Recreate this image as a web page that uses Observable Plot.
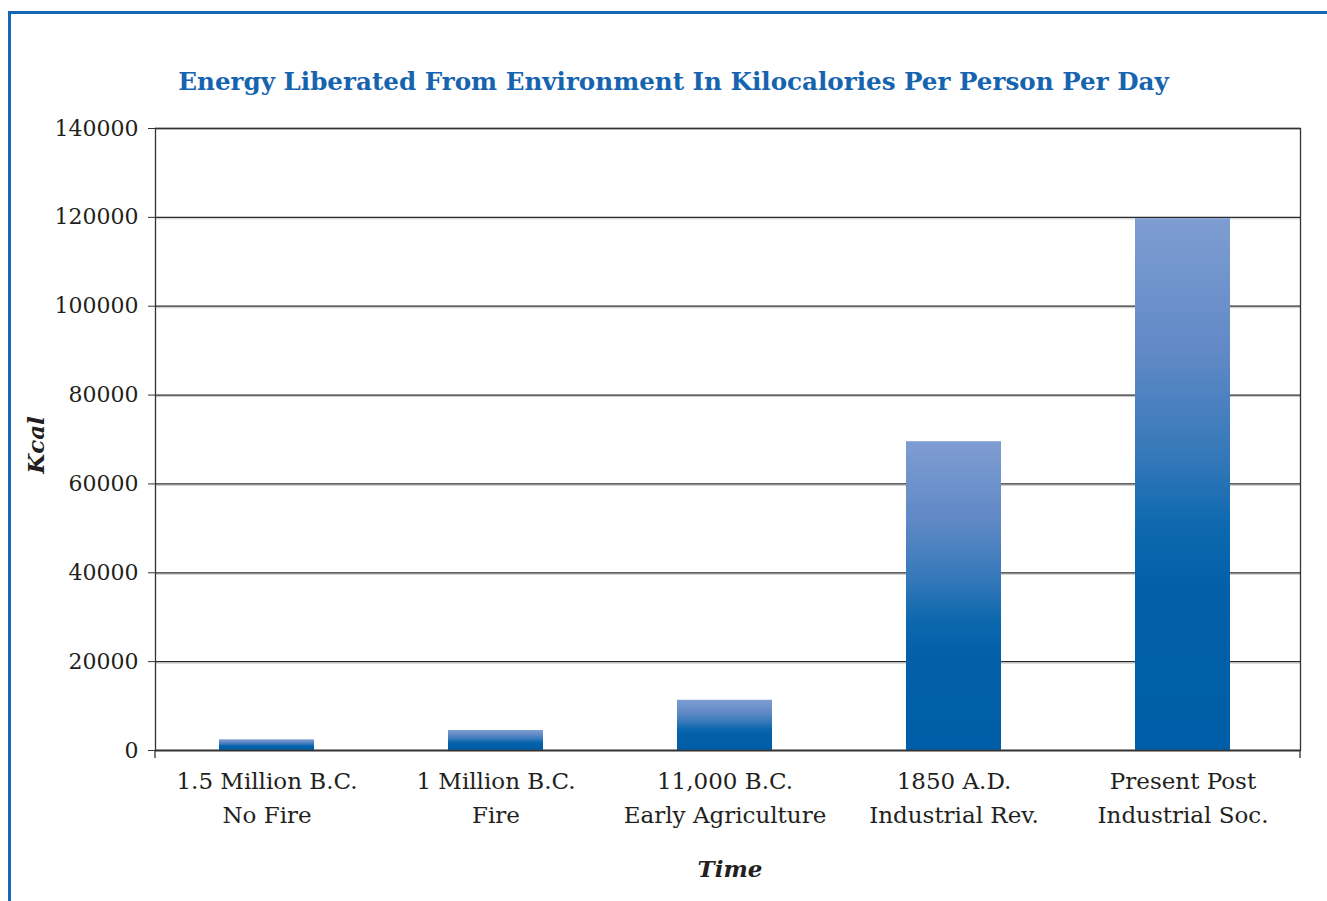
<!DOCTYPE html>
<html><head><meta charset="utf-8">
<script src="https://cdn.jsdelivr.net/npm/d3@7"></script>
<script src="https://cdn.jsdelivr.net/npm/@observablehq/plot@0.6"></script>
<style>
html,body{margin:0;padding:0;background:#fff;}
body{width:1327px;height:901px;overflow:hidden;position:relative;font-family:"DejaVu Serif",serif;}
#box{position:absolute;left:8px;top:11px;width:1330px;height:900px;border-top:3px solid #1566b4;border-left:3px solid #1566b4;}
#chart{position:absolute;left:0;top:0;}
#title{position:absolute;left:10px;width:1327px;top:67px;line-height:30px;text-align:center;font-weight:bold;font-size:24.6px;color:#1664b0;}
#ylab{position:absolute;left:35px;top:445px;transform:translate(-50%,-50%) rotate(-90deg);font-weight:bold;font-style:italic;font-size:23px;color:#231f20;white-space:nowrap;}
#xlab{position:absolute;left:730px;top:868px;transform:translate(-50%,-50%);font-weight:bold;font-style:italic;font-size:23px;color:#231f20;white-space:nowrap;}
</style>
</head><body>
<div id="box"></div>
<div id="chart"></div>
<div id="title">Energy Liberated From Environment In Kilocalories Per Person Per Day</div>
<div id="ylab">Kcal</div>
<div id="xlab">Time</div>
<script>
const categories = ["1.5 Million B.C.\nNo Fire", "1 Million B.C.\nFire", "11,000 B.C.\nEarly Agriculture", "1850 A.D.\nIndustrial Rev.", "Present Post\nIndustrial Soc."];
const kcal = [2400, 4500, 11300, 69500, 119700];
const yTicks = [0, 20000, 40000, 60000, 80000, 100000, 120000, 140000];

const data = categories.map((c, i) => ({cat: c, kcal: kcal[i]}));

const defs = () => {
  const d = d3.create("svg:defs");
  const g = d.append("linearGradient").attr("id", "barGrad").attr("x1", 0).attr("y1", 0).attr("x2", 0).attr("y2", 1);
  [[0, "#7e9dd2"], [0.25, "#6189c6"], [0.45, "#3478b9"], [0.58, "#0d68ae"], [0.7, "#025fa8"], [1, "#005ea8"]]
    .forEach(([o, c]) => g.append("stop").attr("offset", o).attr("stop-color", c));
  return d.node();
};

const edges = (index, scales, values, dims) => {
  const g = d3.create("svg:g").attr("stroke", "#333").attr("stroke-width", 1.3);
  const x0 = dims.marginLeft, x1 = dims.width - dims.marginRight, yb = dims.height - dims.marginBottom;
  for (const x of [x0, x1]) g.append("line").attr("x1", x).attr("x2", x).attr("y1", yb).attr("y2", yb + 8);
  return g.node();
};

const chart = Plot.plot({
  width: 1327,
  height: 901,
  marginTop: 128,
  marginBottom: 151,
  marginLeft: 155,
  marginRight: 27,
  style: {fontFamily: "'DejaVu Serif', serif", fontSize: "22px", color: "#231f20", background: "transparent"},
  x: {domain: categories, paddingInner: 0.585, paddingOuter: 0.2925, align: 0.48},
  y: {domain: [0, 140000]},
  marks: [
    defs,
    Plot.ruleY(yTicks.slice(1, -1), {stroke: "#c8c8c8", strokeWidth: 1, dy: 1.5}),
    Plot.ruleY(yTicks, {stroke: "#2b2b2b", strokeWidth: 1.3}),
    Plot.barY(data, {x: "cat", y: "kcal", fill: "url(#barGrad)"}),
    Plot.ruleY([0], {stroke: "#444", strokeWidth: 1.5}),
    Plot.frame({stroke: "#333", strokeWidth: 1.3}),
    Plot.axisY({ticks: yTicks, tickSize: 7, tickPadding: 10, tickFormat: d => String(d), label: null, stroke: "#333"}),
    Plot.axisX({tickSize: 0, tickPadding: 15, label: null, lineHeight: 1.45, fontSize: 23}),
    edges
  ]
});
document.getElementById("chart").appendChild(chart);
</script>
</body></html>
